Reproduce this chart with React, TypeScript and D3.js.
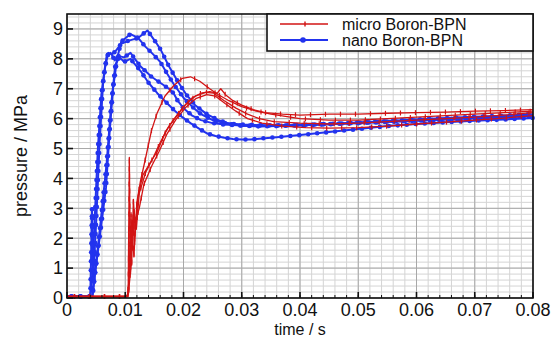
import React, { useEffect, useRef } from "react";
import * as d3 from "d3";

type Pt = [number, number];

// time (s), pressure (MPa)
const micro1: Pt[] = [
  [0, 0.05], [0.0102, 0.05], [0.0105, 0.15], [0.0107, 4.7], [0.0109, 0.8], [0.0112, 2.6],
  [0.0116, 1.9], [0.012, 3.2], [0.0126, 3.9], [0.0134, 4.6], [0.0145, 5.6], [0.0155, 6.2],
  [0.0168, 6.75], [0.0183, 7.1], [0.0198, 7.35], [0.0212, 7.4], [0.0228, 7.25], [0.0245, 7.0],
  [0.026, 6.8], [0.0278, 6.6], [0.03, 6.4], [0.0325, 6.25], [0.035, 6.15], [0.04, 6.0],
  [0.045, 5.95], [0.05, 5.95], [0.055, 6.0], [0.06, 6.05], [0.065, 6.1], [0.07, 6.15],
  [0.075, 6.2], [0.08, 6.25],
];
const micro2: Pt[] = [
  [0, 0.05], [0.0103, 0.05], [0.0106, 0.3], [0.0109, 2.4], [0.0111, 1.1], [0.0114, 3.3],
  [0.0117, 2.2], [0.0122, 3.4], [0.013, 4.1], [0.0142, 4.5], [0.0155, 4.9], [0.017, 5.6],
  [0.0185, 6.0], [0.02, 6.4], [0.0215, 6.7], [0.023, 6.85], [0.0245, 6.9], [0.0258, 6.85],
  [0.0264, 7.0], [0.0272, 6.8], [0.0285, 6.6], [0.03, 6.45], [0.032, 6.3], [0.034, 6.2],
  [0.037, 6.15], [0.04, 6.12], [0.045, 6.15], [0.05, 6.15], [0.055, 6.18], [0.06, 6.2],
  [0.065, 6.22], [0.07, 6.25], [0.075, 6.27], [0.08, 6.3],
];
const micro3: Pt[] = [
  [0, 0.05], [0.0104, 0.05], [0.0108, 1.0], [0.011, 2.8], [0.0112, 1.6], [0.0115, 2.9],
  [0.0119, 2.3], [0.0124, 3.5], [0.0135, 4.2], [0.0148, 4.7], [0.016, 5.2], [0.0175, 5.75],
  [0.019, 6.15], [0.0205, 6.5], [0.022, 6.75], [0.0238, 6.88], [0.0252, 6.85], [0.027, 6.6],
  [0.029, 6.35], [0.031, 6.15], [0.033, 6.0], [0.0355, 5.9], [0.04, 5.85], [0.045, 5.82],
  [0.05, 5.85], [0.055, 5.9], [0.06, 5.95], [0.065, 6.0], [0.07, 6.05], [0.075, 6.12],
  [0.08, 6.2],
];
const micro4: Pt[] = [
  [0, 0.05], [0.0105, 0.05], [0.0109, 0.9], [0.0112, 2.1], [0.0115, 1.4], [0.0118, 2.6],
  [0.0124, 3.0], [0.0132, 3.8], [0.0145, 4.4], [0.0158, 4.9], [0.0172, 5.5], [0.0188, 6.0],
  [0.0205, 6.4], [0.0222, 6.68], [0.024, 6.8], [0.0255, 6.75], [0.0272, 6.5], [0.029, 6.25],
  [0.031, 6.0], [0.0335, 5.85], [0.037, 5.75], [0.041, 5.7], [0.045, 5.68], [0.05, 5.7],
  [0.055, 5.75], [0.06, 5.82], [0.065, 5.88], [0.07, 5.95], [0.075, 6.02], [0.08, 6.1],
];

const nano1: Pt[] = [
  [0, 0.05], [0.0039, 0.05], [0.0042, 0.3], [0.0047, 2.4], [0.0053, 5.0], [0.0059, 6.8],
  [0.0065, 7.7], [0.0071, 8.2], [0.0077, 8.15], [0.0083, 8.25], [0.0093, 8.5], [0.0105, 8.6],
  [0.0122, 8.7], [0.0138, 8.95], [0.0152, 8.57], [0.0161, 8.3], [0.0175, 7.75], [0.019, 7.25],
  [0.0205, 6.8], [0.022, 6.45], [0.024, 6.15], [0.026, 5.95], [0.028, 5.82], [0.03, 5.76],
  [0.033, 5.74], [0.036, 5.75], [0.04, 5.78], [0.045, 5.82], [0.05, 5.87], [0.055, 5.92],
  [0.06, 5.97], [0.065, 6.02], [0.07, 6.06], [0.075, 6.1], [0.08, 6.15],
];
const nano2: Pt[] = [
  [0, 0.05], [0.0043, 0.05], [0.0046, 0.5], [0.0056, 2.0], [0.0067, 3.7], [0.0073, 5.5],
  [0.0079, 7.0], [0.0086, 8.0], [0.0093, 8.57], [0.0109, 8.83], [0.0122, 8.7], [0.0135, 8.4],
  [0.0148, 8.15], [0.016, 7.9], [0.0172, 7.5], [0.0185, 7.1], [0.02, 6.7], [0.0215, 6.4],
  [0.023, 6.15], [0.025, 5.95], [0.027, 5.85], [0.03, 5.8], [0.034, 5.78], [0.038, 5.78],
  [0.042, 5.8], [0.046, 5.83], [0.05, 5.86], [0.055, 5.9], [0.06, 5.94], [0.065, 5.98],
  [0.07, 6.02], [0.075, 6.06], [0.08, 6.1],
];
const nano3: Pt[] = [
  [0, 0.05], [0.004, 0.05], [0.0043, 3.0], [0.0045, 0.6], [0.005, 2.5], [0.0056, 5.2],
  [0.0062, 7.2], [0.0068, 8.1], [0.0075, 8.2], [0.0082, 7.95], [0.0088, 8.1], [0.0098, 8.05],
  [0.0109, 8.2], [0.0126, 7.75], [0.0145, 7.4], [0.016, 7.2], [0.0175, 7.0], [0.0183, 6.85],
  [0.019, 6.6], [0.02, 6.35], [0.0215, 6.1], [0.023, 5.95], [0.025, 5.85], [0.027, 5.8],
  [0.03, 5.77], [0.034, 5.76], [0.038, 5.77], [0.042, 5.79], [0.046, 5.82], [0.05, 5.85],
  [0.055, 5.89], [0.06, 5.93], [0.065, 5.97], [0.07, 6.01], [0.075, 6.05], [0.08, 6.08],
];
const nano4: Pt[] = [
  [0, 0.05], [0.0044, 0.05], [0.0048, 0.8], [0.0058, 2.6], [0.0068, 4.5], [0.0076, 6.5],
  [0.0083, 7.8], [0.009, 8.05], [0.0098, 7.9], [0.0109, 8.0], [0.0126, 7.6], [0.014, 7.2],
  [0.0155, 6.85], [0.017, 6.55], [0.0183, 6.3], [0.0198, 6.05], [0.0212, 5.85], [0.0228, 5.65],
  [0.0241, 5.5], [0.0255, 5.42], [0.027, 5.36], [0.0285, 5.32], [0.03, 5.3], [0.0315, 5.3],
  [0.033, 5.33], [0.036, 5.38], [0.04, 5.45], [0.045, 5.55], [0.05, 5.65], [0.055, 5.75],
  [0.06, 5.82], [0.065, 5.88], [0.07, 5.93], [0.075, 5.97], [0.08, 6.02],
];

const microRuns = [micro1, micro2, micro3, micro4];
const nanoRuns = [nano1, nano2, nano3, nano4];
const xTicks = [0, 0.01, 0.02, 0.03, 0.04, 0.05, 0.06, 0.07, 0.08];
const yTicks = [0, 1, 2, 3, 4, 5, 6, 7, 8, 9];
const legendLabels = ["micro Boron-BPN", "nano Boron-BPN"];

const RED = "#d21414";
const BLUE = "#2233ee";
const FONT = "'Liberation Sans', Arial, sans-serif";

const App: React.FC = () => {
  const svgRef = useRef<SVGSVGElement | null>(null);
  const width = 555;
  const height = 340;
  const margin = { top: 14, right: 22, bottom: 42, left: 67 };

  useEffect(() => {
    const svgElement = svgRef.current;
    if (!svgElement) return;
    const svg = d3.select(svgElement);
    svg.selectAll("*").remove();
    svg.style("background-color", "white");

    const x = d3.scaleLinear().domain([0, 0.08]).range([margin.left, width - margin.right]);
    const y = d3.scaleLinear().domain([0, 9.5]).range([height - margin.bottom, margin.top]);
    const [x0, x1] = x.range();
    const [y0, y1] = y.range();

    // grid: minor then major
    const xMinor = d3.range(0, 0.0801, 0.002);
    const yMinor = d3.range(0, 9.51, 0.2);
    const grid = svg.append("g");
    grid.selectAll(".vx")
      .data(xMinor)
      .enter()
      .append("line")
      .attr("x1", (d) => x(d))
      .attr("x2", (d) => x(d))
      .attr("y1", y0)
      .attr("y2", y1)
      .attr("stroke", "#d4d4d4")
      .attr("stroke-width", 1);
    grid.selectAll(".hy")
      .data(yMinor)
      .enter()
      .append("line")
      .attr("x1", x0)
      .attr("x2", x1)
      .attr("y1", (d) => y(d))
      .attr("y2", (d) => y(d))
      .attr("stroke", "#d4d4d4")
      .attr("stroke-width", 1);
    grid.selectAll(".vmaj")
      .data(xTicks)
      .enter()
      .append("line")
      .attr("x1", (d) => x(d))
      .attr("x2", (d) => x(d))
      .attr("y1", y0)
      .attr("y2", y1)
      .attr("stroke", "#a8a8a8")
      .attr("stroke-width", 1);
    grid.selectAll(".hmaj")
      .data(yTicks)
      .enter()
      .append("line")
      .attr("x1", x0)
      .attr("x2", x1)
      .attr("y1", (d) => y(d))
      .attr("y2", (d) => y(d))
      .attr("stroke", "#a8a8a8")
      .attr("stroke-width", 1);

    const line = d3
      .line<Pt>()
      .x((d) => x(d[0]))
      .y((d) => y(d[1]));

    // markers are spaced along each drawn path, like the plotting tool does
    const drawRun = (data: Pt[], color: string, w: number, kind: "dot" | "tick") => {
      const path = svg
        .append("path")
        .datum(data)
        .attr("d", line)
        .attr("fill", "none")
        .attr("stroke", color)
        .attr("stroke-width", w)
        .attr("stroke-linejoin", "round");
      const node = path.node() as SVGPathElement;
      const len = node.getTotalLength();
      const step = kind === "dot" ? 9 : 15;
      for (let s = step / 2; s < len; s += step) {
        const p = node.getPointAtLength(s);
        if (kind === "dot") {
          svg.append("circle").attr("cx", p.x).attr("cy", p.y).attr("r", 2.3).attr("fill", color);
        } else {
          svg.append("line")
            .attr("x1", p.x).attr("x2", p.x)
            .attr("y1", p.y - 2.5).attr("y2", p.y + 2.5)
            .attr("stroke", color).attr("stroke-width", 1.2);
        }
      }
    };

    nanoRuns.forEach((r) => drawRun(r, BLUE, 2, "dot"));
    microRuns.forEach((r) => drawRun(r, RED, 1.3, "tick"));

    // frame
    svg.append("rect")
      .attr("x", x0)
      .attr("y", y1)
      .attr("width", x1 - x0)
      .attr("height", y0 - y1)
      .attr("fill", "none")
      .attr("stroke", "#111")
      .attr("stroke-width", 1.6);

    // inward ticks
    svg.selectAll(".xt")
      .data(xTicks)
      .enter()
      .append("line")
      .attr("x1", (d) => x(d)).attr("x2", (d) => x(d))
      .attr("y1", y0).attr("y2", y0 - 6)
      .attr("stroke", "#111").attr("stroke-width", 1.6);
    svg.selectAll(".xmt")
      .data(xMinor)
      .enter()
      .append("line")
      .attr("x1", (d) => x(d)).attr("x2", (d) => x(d))
      .attr("y1", y0).attr("y2", y0 - 3)
      .attr("stroke", "#111").attr("stroke-width", 1);
    svg.selectAll(".yt")
      .data(yTicks)
      .enter()
      .append("line")
      .attr("x1", x0).attr("x2", x0 + 6)
      .attr("y1", (d) => y(d)).attr("y2", (d) => y(d))
      .attr("stroke", "#111").attr("stroke-width", 1.6);

    // tick labels
    svg.selectAll(".xl")
      .data(xTicks)
      .enter()
      .append("text")
      .attr("x", (d) => x(d))
      .attr("y", y0 + 18)
      .attr("text-anchor", "middle")
      .attr("font-family", FONT)
      .attr("font-size", 18)
      .attr("fill", "#111")
      .text((d) => (d === 0 ? "0" : d3.format(".2f")(d)));
    svg.selectAll(".yl")
      .data(yTicks)
      .enter()
      .append("text")
      .attr("x", x0 - 4)
      .attr("y", (d) => y(d))
      .attr("dy", "0.35em")
      .attr("text-anchor", "end")
      .attr("font-family", FONT)
      .attr("font-size", 18)
      .attr("fill", "#111")
      .text((d) => String(d));

    svg.append("text")
      .attr("x", (x0 + x1) / 2)
      .attr("y", 335)
      .attr("text-anchor", "middle")
      .attr("font-family", FONT)
      .attr("font-size", 16)
      .attr("fill", "#111")
      .text("time / s");
    svg.append("text")
      .attr("transform", `translate(27,${(y0 + y1) / 2}) rotate(-90)`)
      .attr("text-anchor", "middle")
      .attr("font-family", FONT)
      .attr("font-size", 18)
      .attr("fill", "#111")
      .text("pressure / MPa");

    // legend
    const lg = svg.append("g");
    lg.append("rect")
      .attr("x", 267)
      .attr("y", y1)
      .attr("width", x1 - 267)
      .attr("height", 37)
      .attr("fill", "white")
      .attr("stroke", "#111")
      .attr("stroke-width", 1.6);
    const colors = [RED, BLUE];
    legendLabels.forEach((label, i) => {
      const ly = 24 + i * 16;
      lg.append("line")
        .attr("x1", 280).attr("x2", 328)
        .attr("y1", ly).attr("y2", ly)
        .attr("stroke", colors[i]).attr("stroke-width", i === 0 ? 1.6 : 2);
      if (i === 0) {
        lg.append("line")
          .attr("x1", 305).attr("x2", 305)
          .attr("y1", ly - 2.5).attr("y2", ly + 2.5)
          .attr("stroke", colors[i]).attr("stroke-width", 1.4);
      } else {
        lg.append("circle").attr("cx", 303).attr("cy", ly).attr("r", 2.8).attr("fill", colors[i]);
      }
      lg.append("text")
        .attr("x", 342)
        .attr("y", ly + 6)
        .attr("font-family", FONT)
        .attr("font-size", 16)
        .attr("fill", "#111")
        .text(label);
    });
  }, []);

  return (
    <svg
      ref={svgRef}
      width={width}
      height={height}
      style={{ position: "absolute", left: 0, top: 0 }}
    ></svg>
  );
};

export default App;
